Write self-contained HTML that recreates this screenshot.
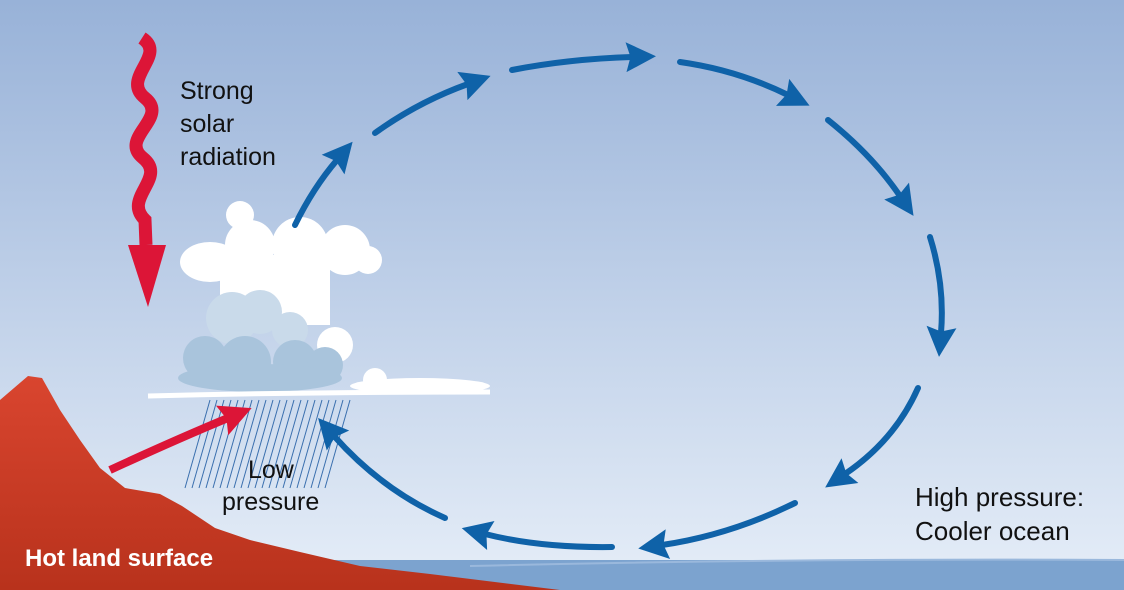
<!DOCTYPE html>
<html><head><style>body{margin:0}svg{display:block}text{font-family:"Liberation Sans",sans-serif}</style></head><body>
<svg width="1124" height="590" viewBox="0 0 1124 590" xmlns="http://www.w3.org/2000/svg">
<defs>
<linearGradient id="sky" x1="0" y1="0" x2="0" y2="1"><stop offset="0" stop-color="#98b2d8"/><stop offset="0.55" stop-color="#c3d3ea"/><stop offset="1" stop-color="#e6eef8"/></linearGradient>
<linearGradient id="land" x1="0" y1="0" x2="0" y2="1"><stop offset="0" stop-color="#d9452f"/><stop offset="1" stop-color="#b8321c"/></linearGradient>
<marker id="bh" viewBox="0 0 10 10" refX="2" refY="5" markerWidth="7" markerHeight="5" orient="auto" markerUnits="strokeWidth"><path d="M0,0 L10,5 L0,10 L1.5,5z" fill="#0f62a8"/></marker>
<marker id="rh" viewBox="0 0 10 10" refX="2" refY="5" markerWidth="4.5" markerHeight="4" orient="auto" markerUnits="strokeWidth"><path d="M0,0 L10,5 L0,10 L1.5,5z" fill="#dc1537"/></marker>
</defs>
<rect width="1124" height="590" fill="url(#sky)"/>
<rect y="560" width="1124" height="30" fill="#7ca3cf"/>
<path d="M470 566 Q800 558 1124 560" stroke="#9ab8dc" stroke-width="2" fill="none"/>
<path d="M0 400 L28 376 L42 378 L60 410 L80 440 L100 468 L125 488 L160 494 L182 506 L215 528 L250 540 L300 552 L360 566 L430 574 L560 590 L0 590Z" fill="url(#land)"/>
<text x="25" y="566" font-size="24" font-weight="bold" fill="#fff">Hot land surface</text>
<!-- rain -->
<g stroke="#3a6fae" stroke-width="1">
<path d="M185 488 L210 400 M192 488 L217 400 M199 488 L224 400 M206 488 L231 400 M213 488 L238 400 M220 488 L245 400 M227 488 L252 400 M234 488 L259 400 M241 488 L266 400 M248 488 L273 400 M255 488 L280 400 M262 488 L287 400 M269 488 L294 400 M276 488 L301 400 M283 488 L308 400 M290 488 L315 400 M297 488 L322 400 M304 488 L329 400 M311 488 L336 400 M318 488 L343 400 M325 488 L350 400"/>
</g>
<!-- cloud -->
<g fill="#fff">
<circle cx="240" cy="215" r="14"/><ellipse cx="210" cy="262" rx="30" ry="20"/><circle cx="250" cy="245" r="25"/><circle cx="300" cy="245" r="28"/><circle cx="345" cy="250" r="25"/><circle cx="368" cy="260" r="14"/>
<rect x="220" y="255" width="110" height="70"/><circle cx="335" cy="345" r="18"/><ellipse cx="420" cy="386" rx="70" ry="8"/><circle cx="375" cy="380" r="12"/>
</g>
<g fill="#c9daea"><circle cx="232" cy="318" r="26"/><circle cx="260" cy="312" r="22"/><circle cx="290" cy="330" r="18"/></g>
<g fill="#a9c4dc"><circle cx="205" cy="358" r="22"/><circle cx="245" cy="362" r="26"/><circle cx="295" cy="362" r="22"/><circle cx="325" cy="365" r="18"/><ellipse cx="260" cy="378" rx="82" ry="14"/></g>
<path d="M148 396 Q300 392 490 392" stroke="#fff" stroke-width="5" fill="none"/>
<!-- red arrows -->
<path d="M142 38 C168 55 120 78 145 98 C170 118 118 138 143 158 C168 178 122 198 145 220 L146 245" stroke="#dc1537" stroke-width="13" fill="none"/>
<path d="M128 245 L166 245 L148 307Z" fill="#dc1537"/>
<path d="M110 470 Q175 440 228 418" stroke="#dc1537" stroke-width="8" fill="none" marker-end="url(#rh)"/>
<!-- blue loop -->
<g stroke="#0f62a8" stroke-width="6" fill="none" stroke-linecap="round">
<path d="M295 225 Q313 188 337 160" marker-end="url(#bh)"/>
<path d="M375 133 Q418 102 468 84" marker-end="url(#bh)"/>
<path d="M512 70 Q568 59 632 57" marker-end="url(#bh)"/>
<path d="M680 62 Q737 70 788 95" marker-end="url(#bh)"/>
<path d="M828 120 Q872 155 900 196" marker-end="url(#bh)"/>
<path d="M930 237 Q945 285 941 333" marker-end="url(#bh)"/>
<path d="M918 388 Q895 440 845 474" marker-end="url(#bh)"/>
<path d="M795 503 Q730 535 662 545" marker-end="url(#bh)"/>
<path d="M612 547 Q540 548 485 534" marker-end="url(#bh)"/>
<path d="M445 518 Q382 490 334 436" marker-end="url(#bh)"/>
</g>
<g font-size="25" fill="#111">
<text x="180" y="99">Strong</text><text x="180" y="132">solar</text><text x="180" y="165">radiation</text>
<text x="248" y="478">Low</text><text x="222" y="510">pressure</text>
<text x="915" y="506" font-size="26">High pressure:</text><text x="915" y="540" font-size="26">Cooler ocean</text>
</g>
</svg>
</body></html>
